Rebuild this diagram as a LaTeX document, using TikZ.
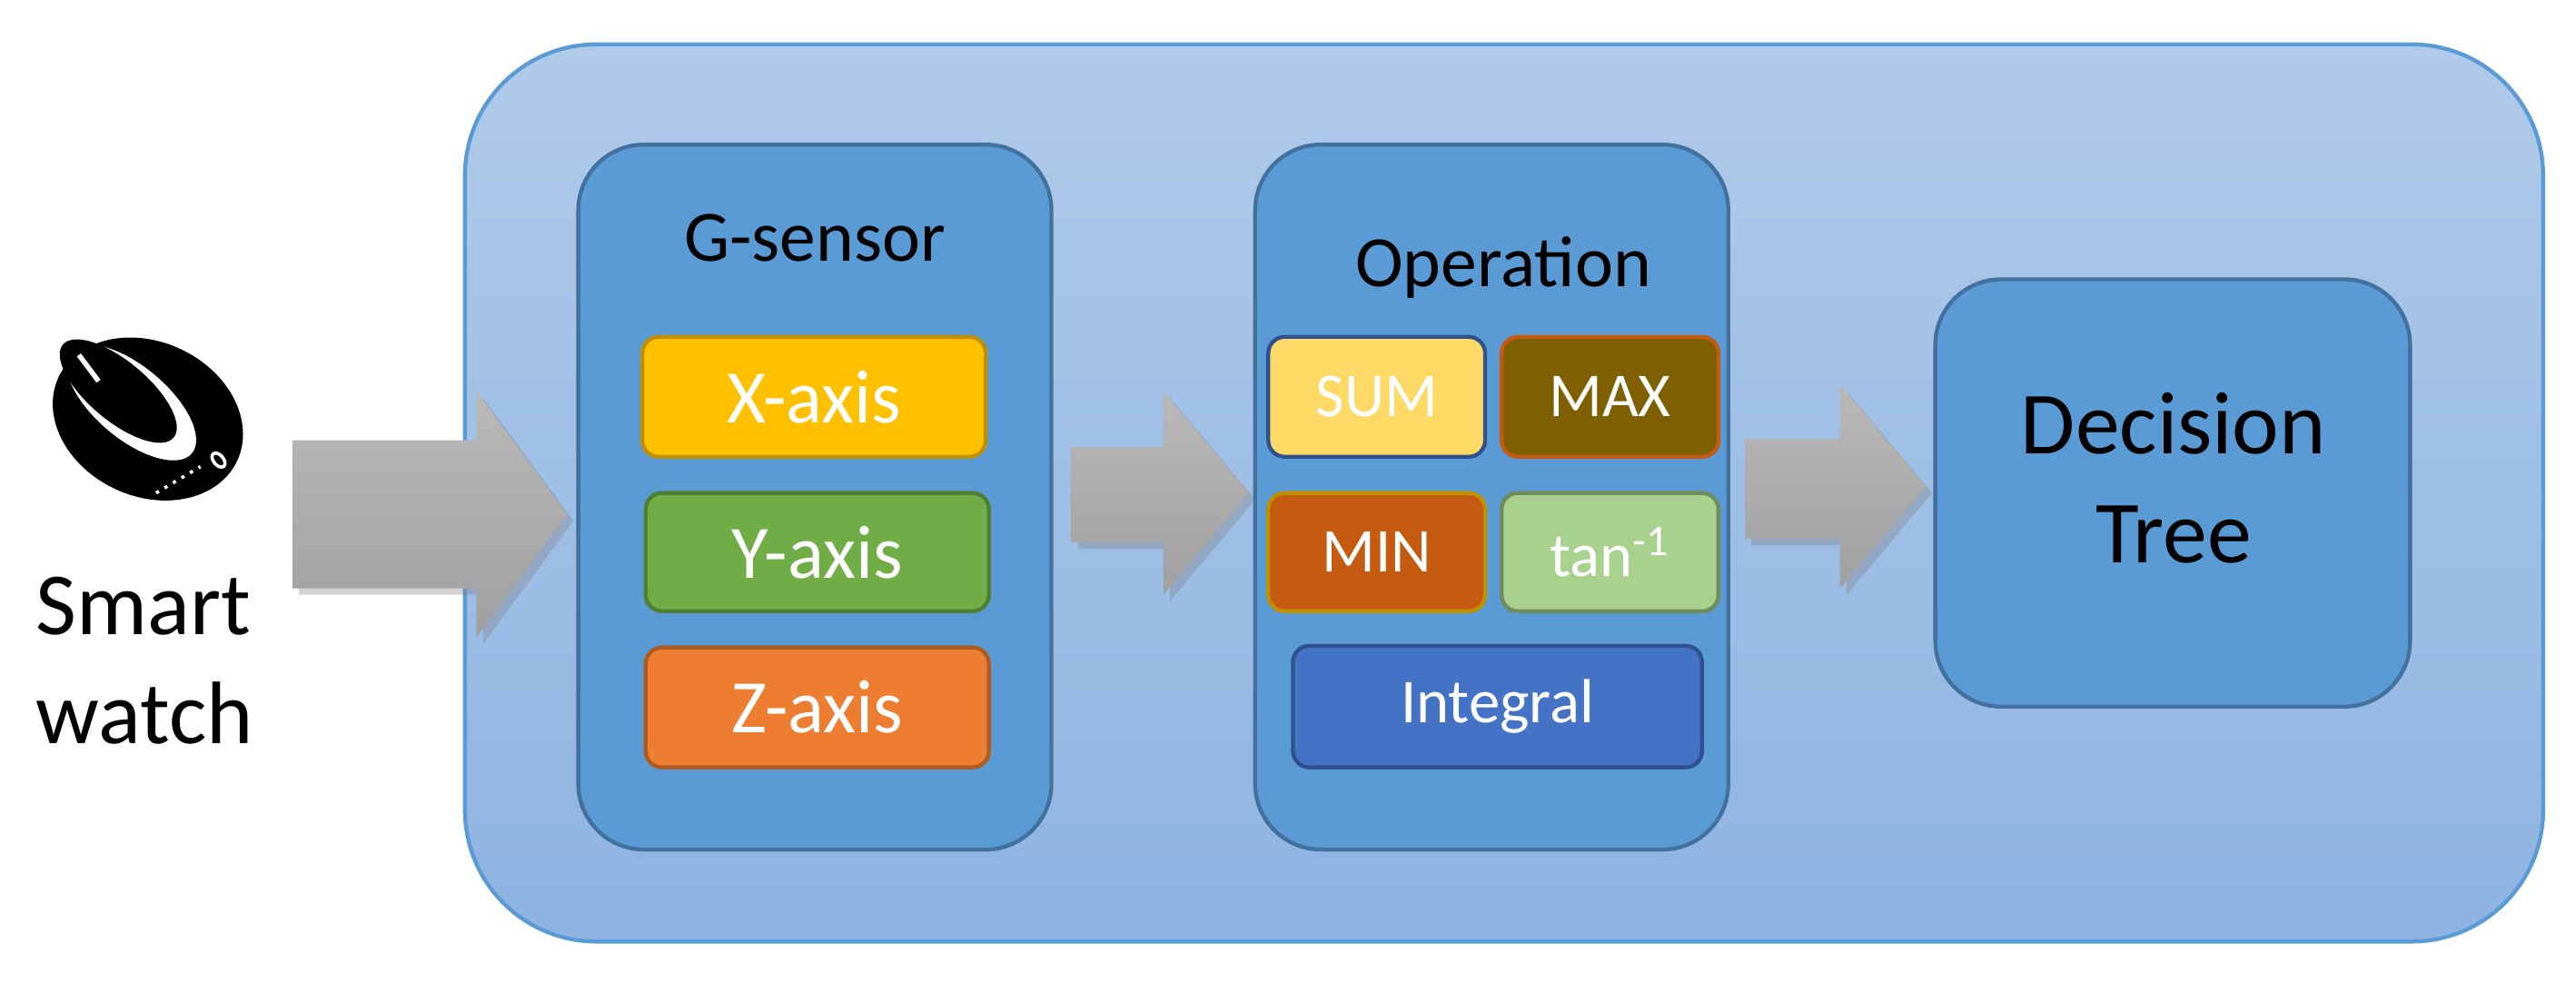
\documentclass[tikz,border=0pt]{standalone}
\usepackage{fontspec}
\setmainfont{Carlito}
\usetikzlibrary{shadows,shapes.geometric}
\definecolor{outerA}{HTML}{B0CAE9}
\definecolor{outerB}{HTML}{8EB3E1}
\definecolor{accent}{HTML}{5B9BD5}
\definecolor{accentD}{HTML}{41719C}
\definecolor{cX}{HTML}{FFC000}\definecolor{bX}{HTML}{BF9000}
\definecolor{cY}{HTML}{70AD47}\definecolor{bY}{HTML}{507E32}
\definecolor{cZ}{HTML}{ED7D31}\definecolor{bZ}{HTML}{AE5A21}
\definecolor{cSum}{HTML}{FFD966}\definecolor{bSum}{HTML}{2F528F}
\definecolor{cMax}{HTML}{7F6000}\definecolor{bMax}{HTML}{C55A11}
\definecolor{cMin}{HTML}{C55A11}\definecolor{bMin}{HTML}{BF9000}
\definecolor{cTan}{HTML}{A9D18E}\definecolor{bTan}{HTML}{708C5A}
\definecolor{cInt}{HTML}{4472C4}\definecolor{bInt}{HTML}{2F528F}
\tikzset{
 x=0.5pt,y=-0.5pt,
 panel/.style={draw=accentD,line width=1.2pt,fill=accent,rounded corners=20pt},
 item/.style={line width=1.2pt,rounded corners=5pt},
 lbl/.style={text=white,font=\fontsize{23}{26}\selectfont},
 slbl/.style={text=white,font=\fontsize{19}{22}\selectfont},
 big/.style={font=\fontsize{22}{26}\selectfont},
 garrow/.style={top color=gray!55,bottom color=gray!75,draw=none,drop shadow={shadow xshift=2pt,shadow yshift=-2pt,opacity=0.35}},
}
\begin{document}
\begin{tikzpicture}
\useasboundingbox (0,0) rectangle (1568,598);
% outer
\path[draw=accent,line width=1.2pt,top color=outerA,bottom color=outerB,rounded corners=40pt] (283,27) rectangle (1548,573);
% panels
\path[panel] (352,88) rectangle (640,517);
\node[big] (gs) at (496,145) {G-sensor};
\path[panel] (764,88) rectangle (1052,517);
\node[big] (op) at (915,163) {Operation};
\path[panel] (1178,170) rectangle (1467,430);
\node[font=\fontsize{27}{33}\selectfont,align=center] (dt) at (1323,291) {Decision\\Tree};
% G-sensor items
\path[item,draw=bX,fill=cX] (391,205) rectangle (600,278);
\node[lbl] (x) at (495.5,241.5) {X-axis};
\path[item,draw=bY,fill=cY] (393,300) rectangle (602,372);
\node[lbl] (y) at (497.5,336) {Y-axis};
\path[item,draw=bZ,fill=cZ] (393,394) rectangle (602,467);
\node[lbl] (z) at (497.5,430.5) {Z-axis};
% Operation items
\path[item,draw=bSum,fill=cSum] (772,205) rectangle (904,278);
\node[slbl] (sum) at (838,241.5) {SUM};
\path[item,draw=bMax,fill=cMax] (914,205) rectangle (1046,278);
\node[slbl] (max) at (980,241.5) {MAX};
\path[item,draw=bMin,fill=cMin] (772,300) rectangle (904,372);
\node[slbl] (min) at (838,336) {MIN};
\path[item,draw=bTan,fill=cTan] (914,300) rectangle (1046,372);
\node[slbl] (tan) at (980,336) {tan\textsuperscript{-1}};
\path[item,draw=bInt,fill=cInt] (787,393) rectangle (1036,467);
\node[slbl] (int) at (911.5,430) {Integral};
% arrows
\path[garrow] (178,268) -- (290,268) -- (290,238) -- (345,313) -- (290,388) -- (290,358) -- (178,358) -- cycle;
\path[garrow] (652,272) -- (708,272) -- (708,238) -- (760,300) -- (708,362) -- (708,330) -- (652,330) -- cycle;
\path[garrow] (1062,267) -- (1120,267) -- (1120,234) -- (1172,296) -- (1120,358) -- (1120,328) -- (1062,328) -- cycle;
% smartwatch icon
\fill[black,rotate around={-25:(90,255)}] (90,255) ellipse (60 and 47);
\fill[white,rotate around={-40:(80,245)}] (80,245) ellipse (48 and 22);
\fill[black,rotate around={-40:(72,238)}] (72,238) ellipse (44 and 18);
\draw[white,line width=1.5pt] (48,216) -- (60,232);
\draw[white,line width=1pt,rotate around={-50:(133,280)}] (133,280) ellipse (5 and 3);
\draw[white,line width=1pt,dotted] (95,300) -- (122,284);
\node[font=\fontsize{27}{33}\selectfont,align=left] (sw) at (88,402) {Smart\\watch};
\end{tikzpicture}
\end{document}
